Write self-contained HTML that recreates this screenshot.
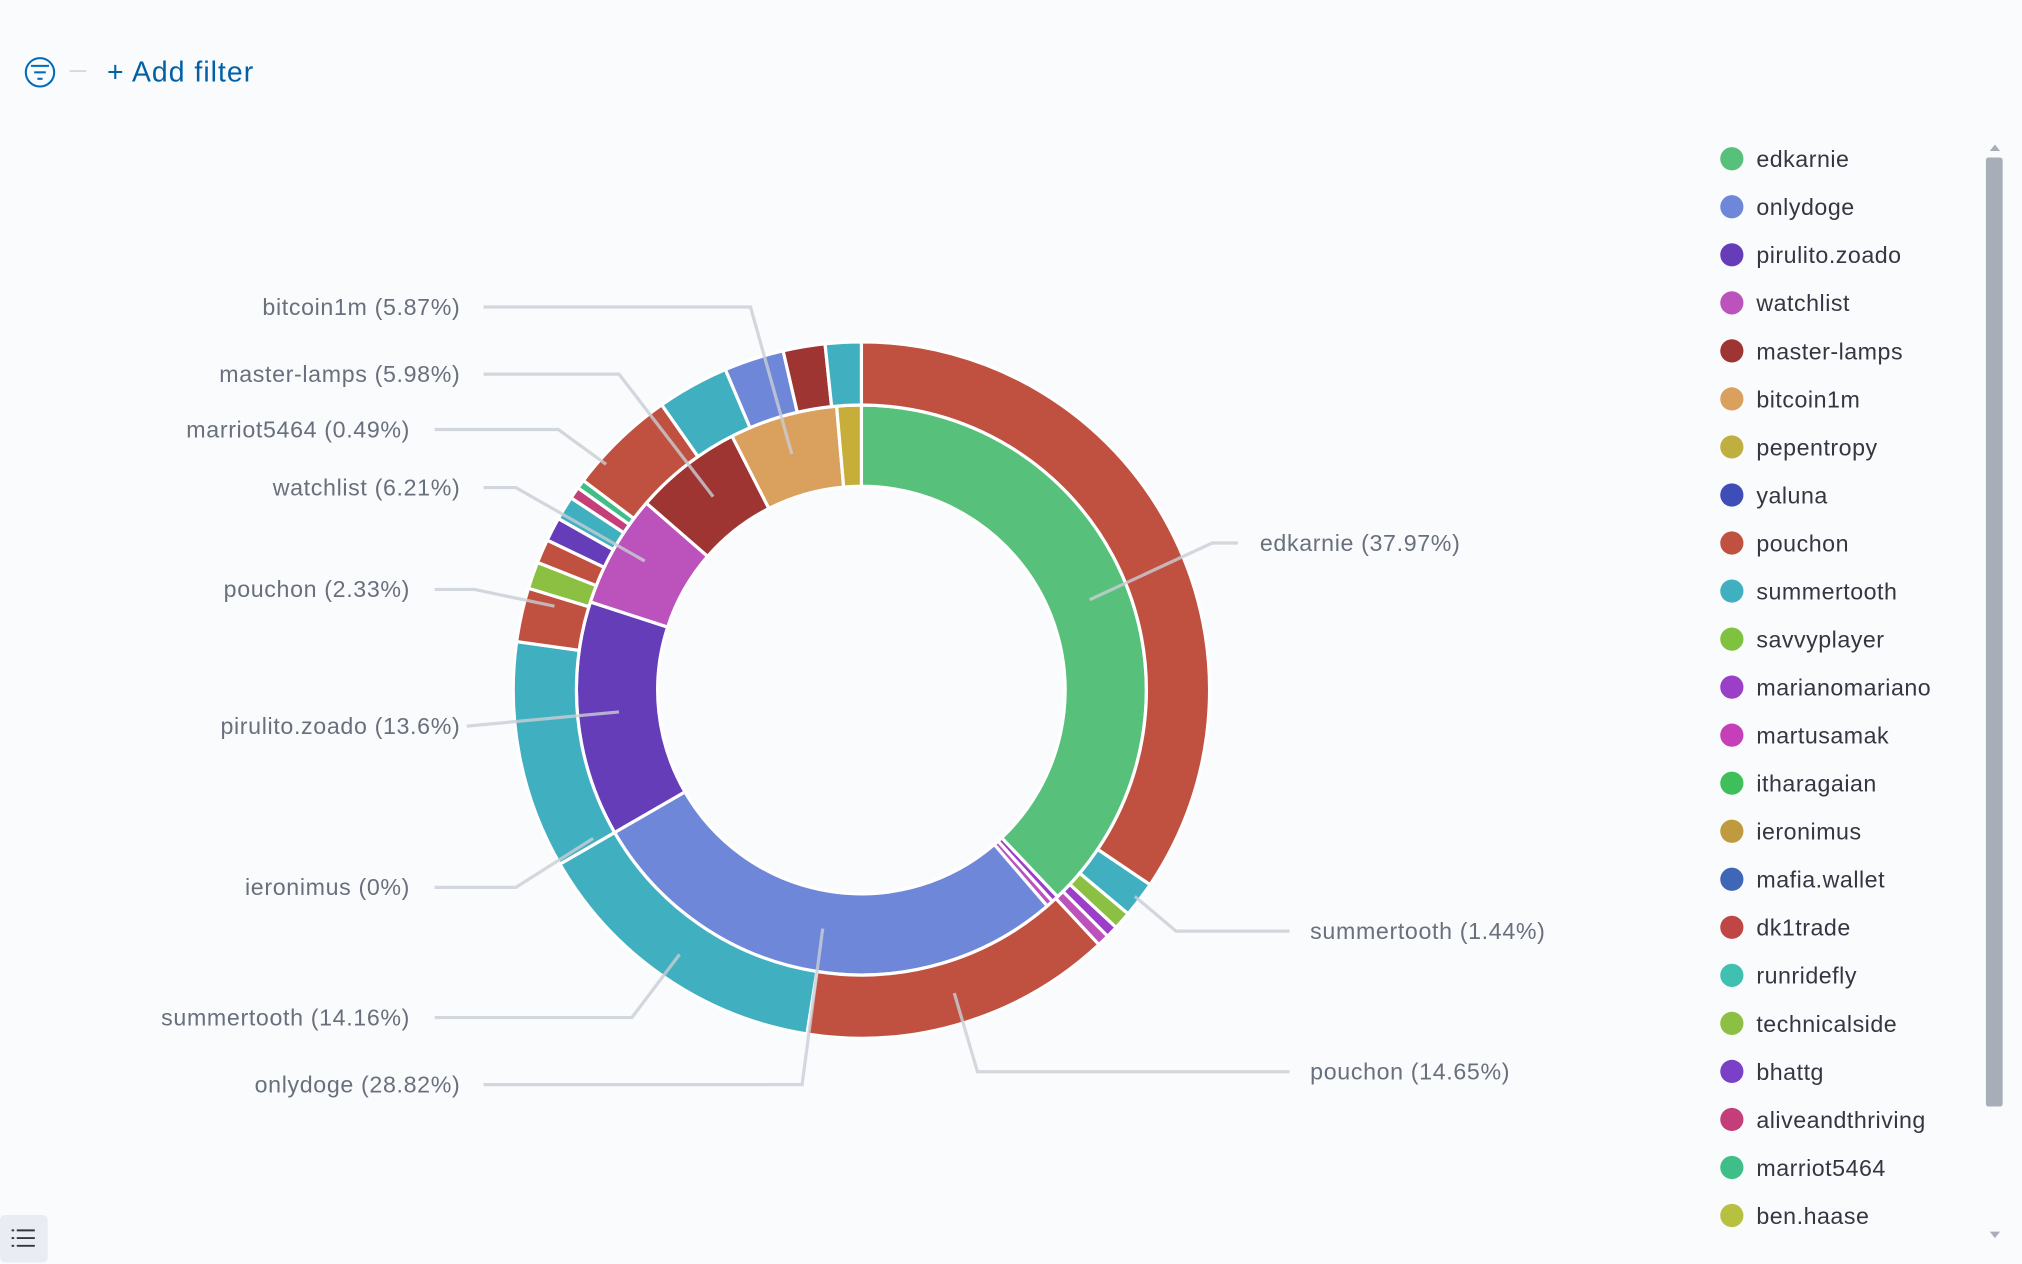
<!DOCTYPE html>
<html><head><meta charset="utf-8"><style>
html,body{margin:0;padding:0;background:#fafbfd;}
svg{display:block;font-family:"Liberation Sans",sans-serif;}
</style></head><body>
<svg id="s" width="2022" height="1264" viewBox="0 0 1568 980" xmlns="http://www.w3.org/2000/svg">
<rect width="1568" height="980" fill="#fafbfd"/>
<circle cx="31" cy="56" r="11" fill="none" stroke="#006bb8" stroke-width="1.6"/>
<line x1="24" y1="51" x2="38" y2="51" stroke="#006bb8" stroke-width="1.6"/>
<line x1="26.5" y1="56" x2="35.5" y2="56" stroke="#006bb8" stroke-width="1.6"/>
<line x1="29" y1="61" x2="33" y2="61" stroke="#006bb8" stroke-width="1.6"/>
<line x1="54" y1="55" x2="67" y2="55" stroke="#d3dae6" stroke-width="1.5"/>
<text x="83" y="63" font-size="22" letter-spacing="0.8" fill="#0061a6">+ Add filter</text>
<rect x="0" y="942" width="37" height="37" rx="4" fill="#e9edf3"/>
<g stroke="#343741" stroke-width="1.5"><line x1="13" y1="954" x2="27" y2="954"/><line x1="13" y1="960" x2="27" y2="960"/><line x1="13" y1="966" x2="27" y2="966"/><line x1="9" y1="954" x2="11" y2="954"/><line x1="9" y1="960" x2="11" y2="960"/><line x1="9" y1="966" x2="11" y2="966"/></g>
<g id="pie" stroke="#fff" stroke-width="2.5"></g>
<g id="lines" stroke="#c9ced6" stroke-width="2.5" fill="none" opacity="0.8">
<polyline points="375,238 582,238 614,352"/>
<polyline points="375,290 480,290 553,385"/>
<polyline points="337,333 433,333 470,360"/>
<polyline points="375,378 400,378 500,435"/>
<polyline points="337,457 368,457 430,470"/>
<polyline points="362,563 480,552"/>
<polyline points="337,688 400,688 460,650"/>
<polyline points="337,789 490,789 527,740"/>
<polyline points="375,841 622,841 638,720"/>
<polyline points="1000,831 758,831 740,770"/>
<polyline points="1000,722 912,722 880,695"/>
<polyline points="960,421 940,421 845,465"/>
</g>
<g font-size="18" fill="#69707d" text-anchor="end" letter-spacing="0.5">
<text x="357" y="244">bitcoin1m (5.87%)</text>
<text x="357" y="296">master-lamps (5.98%)</text>
<text x="318" y="339">marriot5464 (0.49%)</text>
<text x="357" y="384">watchlist (6.21%)</text>
<text x="318" y="463">pouchon (2.33%)</text>
<text x="357" y="569">pirulito.zoado (13.6%)</text>
<text x="318" y="694">ieronimus (0%)</text>
<text x="318" y="795">summertooth (14.16%)</text>
<text x="357" y="847">onlydoge (28.82%)</text>
</g>
<g font-size="18" fill="#69707d" letter-spacing="0.5">
<text x="977" y="427">edkarnie (37.97%)</text>
<text x="1016" y="728">summertooth (1.44%)</text>
<text x="1016" y="837">pouchon (14.65%)</text>
</g>
<g id="legend" font-size="18" fill="#343741" letter-spacing="0.4"></g>
<rect x="1540" y="122" width="13" height="736" rx="2" fill="#a8aeb8"/>
<path d="M1543 117 L1547 112 L1551 117Z" fill="#a8aeb8"/>
<path d="M1543 955 L1547 960 L1551 955Z" fill="#a8aeb8"/>
</svg>
<script>
var cx=668,cy=535,NS="http://www.w3.org/2000/svg";
function arc(r0,r1,a0,a1,c){
 var t0=(a0-90)*Math.PI/180,t1=(a1-90)*Math.PI/180,l=(a1-a0)>180?1:0;
 var p="M"+(cx+r1*Math.cos(t0))+" "+(cy+r1*Math.sin(t0))+"A"+r1+" "+r1+" 0 "+l+" 1 "+(cx+r1*Math.cos(t1))+" "+(cy+r1*Math.sin(t1))+
 "L"+(cx+r0*Math.cos(t1))+" "+(cy+r0*Math.sin(t1))+"A"+r0+" "+r0+" 0 "+l+" 0 "+(cx+r0*Math.cos(t0))+" "+(cy+r0*Math.sin(t0))+"Z";
 var e=document.createElementNS(NS,"path");e.setAttribute("d",p);e.setAttribute("fill",c);document.getElementById("pie").appendChild(e);
}
var R="#c0503f",T="#40afc0",B="#6f87d8",G="#57c17b",P="#663db8",K="#bc52bc",D="#9e3533",N="#daa05d",O="#c7ae3a",LG="#8cc043",V="#9b3fc9",PR="#c43f7a",GG="#3fbf87";
var inner=[[0,136.5,G],[136.5,137.9,V],[137.9,139.3,K],[139.3,240,B],[240,288,P],[288,311,K],[311,333,D],[333,355,N],[355,360,O]];
inner.forEach(function(s){arc(158,221,s[0],s[1],s[2]);});
var outer=[[0,124,R],[124,130,T],[130,133,LG],[133,135,V],[135,137,K],[137,189,R],[189,240,T],[240,278,T],[278,287,R],[287,291.5,LG],[291.5,295.5,R],[295.5,299.5,P],[299.5,303.5,T],[303.5,305.5,PR],[305.5,307,GG],[307,325,R],[325,337,T],[337,347,B],[347,354,D],[354,360,T]];
outer.forEach(function(s){arc(221,270,s[0],s[1],s[2]);});
var leg=[["edkarnie","#57c17b"],["onlydoge","#6f87d8"],["pirulito.zoado","#663db8"],["watchlist","#bc52bc"],["master-lamps","#9e3533"],["bitcoin1m","#daa05d"],["pepentropy","#bfaf40"],["yaluna","#3f4db8"],["pouchon","#c0503f"],["summertooth","#40afc0"],["savvyplayer","#7fc240"],["marianomariano","#9b3fc9"],["martusamak","#c43fb8"],["itharagaian","#3fbf5a"],["ieronimus","#bf9a3f"],["mafia.wallet","#3f67b8"],["dk1trade","#c04545"],["runridefly","#40c0b0"],["technicalside","#8cc043"],["bhattg","#7a40c8"],["aliveandthriving","#c43f7a"],["marriot5464","#3fbf87"],["ben.haase","#b8c040"]];
var g=document.getElementById("legend");
leg.forEach(function(l,i){var y=123+i*37.25;
 var c=document.createElementNS(NS,"circle");c.setAttribute("cx",1343);c.setAttribute("cy",y);c.setAttribute("r",9);c.setAttribute("fill",l[1]);g.appendChild(c);
 var t=document.createElementNS(NS,"text");t.setAttribute("x",1362);t.setAttribute("y",y+6.5);t.textContent=l[0];g.appendChild(t);});
</script>
</body></html>
